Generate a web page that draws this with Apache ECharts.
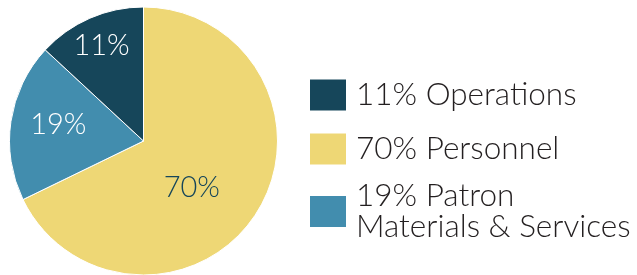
<!DOCTYPE html>
<html>
<head>
<meta charset="utf-8">
<script src="https://cdn.jsdelivr.net/npm/echarts@6/dist/echarts.min.js"></script>
<style>
html, body { margin: 0; padding: 0; background: #fff; }
#chart { width: 637px; height: 275px; }
</style>
</head>
<body>
<div id="chart"></div>
<script>
// slices, clockwise from 12 o'clock
var categories = ['Personnel', 'Patron Materials & Services', 'Operations']
// slice sizes as drawn (measured angles), and the rounded % printed on them
var shares = [67.8, 19.1, 13.1]
var percents = [70, 19, 11]
var colors = ['#eed775', '#428dae', '#16465a']
var labelColors = ['#16465a', '#ffffff', '#ffffff']
var labelOffsets = [[-11, 10], [-16, -6], [-14, -31]]

// legend is listed in a different order than the slices
var legendOrder = ['Operations', 'Personnel', 'Patron Materials & Services']
var legendTops = [77, 131, 180]

var fontName = 'Lato'

var legendText = function(name) {
    var pct = percents[categories.indexOf(name)]
    // the long one wraps after "Patron"
    return pct + '% ' + name.replace('Patron ', 'Patron\n')
}

var legends = legendOrder.map(function(name, i) {
    var multi = legendText(name).indexOf('\n') != -1
    return {
        data: [name],
        orient: 'vertical',
        left: 308,
        top: legendTops[i],
        padding: 0,
        icon: 'rect',
        itemWidth: 38,
        itemHeight: 33,
        selectedMode: false,
        formatter: legendText,
        textStyle: {
            fontFamily: fontName,
            fontWeight: 300,
            fontSize: 31.5,
            color: '#231f20',
            lineHeight: 31,
            // nudge text a bit above the swatch centre, 2nd line hangs below
            padding: multi ? [0, 0, -26, 4] : [0, 0, 5, 4]
        }
    }
})

var myChart = echarts.init(document.getElementById('chart'))
var option = {
    animation: false,
    legend: legends,
    series: [{
        type: 'pie',
        center: [143.5, 141],
        radius: 134,
        startAngle: 90,
        clockwise: true,
        avoidLabelOverlap: false,
        emphasis: { disabled: true },
        itemStyle: { borderColor: '#ffffff', borderWidth: 1 },
        labelLine: { show: false },
        label: {
            position: 'inside',
            fontFamily: fontName,
            fontWeight: 300,
            fontSize: 29,
            formatter: function(p) {
                return percents[p.dataIndex] + '%'
            }
        },
        data: categories.map(function(name, i) {
            return {
                name: name,
                value: shares[i],
                itemStyle: { color: colors[i] },
                label: { color: labelColors[i], offset: labelOffsets[i] }
            }
        })
    }]
}
myChart.setOption(option)
</script>
</body>
</html>
